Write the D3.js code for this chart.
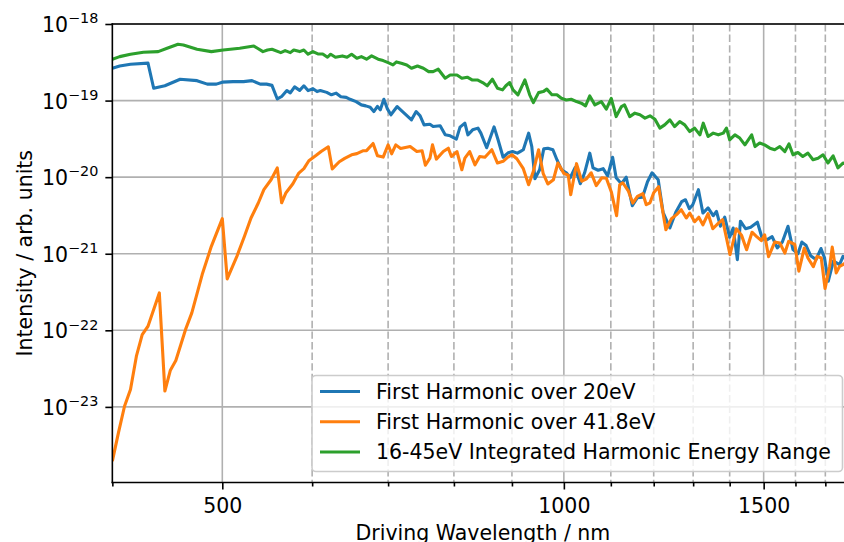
<!DOCTYPE html>
<html><head><meta charset="utf-8">
<script src="https://cdn.jsdelivr.net/npm/d3@7"></script>
<style>body{margin:0;background:#fff}svg text{font-family:"DejaVu Sans",sans-serif;fill:#000}</style>
</head><body>
<svg id="c" width="844" height="542"></svg>
<script>
// ---- data (wavelength in nm, intensity in arb. units) ----
const greenWl=[400,406,415,426,439,447,457,462,475,489,501,518,533,537,543,548,553,563,568,574,578,585,590,595,601,607,613,619,623,629,638,644,650,657,663,670,677,686,693,700,707,712,719,727,734,743,752,760,767,775,786,794,805,813,822,830,839,848,856,865,874,883,889,896,902,911,924,933,940,950,959,966,976,986,995,1005,1015,1026,1036,1045,1054,1065,1079,1090,1101,1112,1124,1131,1143,1155,1167,1179,1191,1203,1215,1227,1240,1252,1265,1278,1291,1304,1318,1327,1340,1354,1368,1382,1391,1400,1415,1429,1444,1464,1474,1488,1503,1519,1534,1550,1566,1579,1592,1608,1624,1641,1658,1675,1692,1709,1727,1744,1762,1780];
const greenI=[3.47e-19,3.75e-19,4.03e-19,4.28e-19,4.36e-19,4.82e-19,5.43e-19,5.32e-19,4.68e-19,4.36e-19,
4.58e-19,4.82e-19,5.16e-19,4.82e-19,4.36e-19,4.58e-19,4.68e-19,4.23e-19,4.49e-19,4.23e-19,
4.58e-19,4.36e-19,4.58e-19,4.03e-19,4.36e-19,4.06e-19,4.06e-19,3.68e-19,4.03e-19,3.68e-19,
3.83e-19,3.68e-19,4.03e-19,3.57e-19,3.75e-19,3.47e-19,3.83e-19,3.47e-19,3.33e-19,3.13e-19,
2.92e-19,3.20e-19,3.08e-19,2.92e-19,2.64e-19,2.83e-19,2.64e-19,2.39e-19,2.39e-19,2.57e-19,
1.96e-19,2.16e-19,2.16e-19,1.96e-19,2.02e-19,1.86e-19,1.86e-19,1.72e-19,1.56e-19,1.90e-19,
1.45e-19,1.38e-19,1.56e-19,1.72e-19,1.38e-19,1.19e-19,1.86e-19,1.19e-19,9.42e-20,1.27e-19,
1.31e-19,1.41e-19,1.19e-19,1.19e-19,1.07e-19,1.02e-19,1.04e-19,9.70e-20,9.25e-20,8.53e-20,
1.15e-19,8.79e-20,9.70e-20,7.73e-20,1.07e-19,6.18e-20,8.36e-20,8.79e-20,6.18e-20,6.85e-20,
6.52e-20,5.90e-20,6.32e-20,5.71e-20,4.37e-20,4.82e-20,5.60e-20,4.58e-20,5.32e-20,4.82e-20,
3.94e-20,4.37e-20,3.57e-20,5.07e-20,3.40e-20,3.76e-20,3.57e-20,3.76e-20,4.37e-20,3.08e-20,
3.57e-20,3.24e-20,2.64e-20,3.57e-20,2.51e-20,2.79e-20,2.64e-20,2.39e-20,2.28e-20,2.51e-20,
2.16e-20,2.72e-20,1.96e-20,2.10e-20,1.86e-20,2.06e-20,1.69e-20,1.77e-20,1.96e-20,1.53e-20,
1.90e-20,1.32e-20,1.53e-20,1.45e-20];

const blueWl=[400,406,415,430,435,445,459,475,485,494,500,511,522,531,540,547,553,559,564,570,574,579,585,590,595,601,606,610,618,624,630,636,643,648,656,663,669,675,680,685,689,694,699,704,713,722,734,741,747,753,762,767,778,786,794,804,810,818,823,831,840,845,855,868,875,884,893,901,910,915,921,931,937,943,952,960,968,978,986,995,1005,1013,1023,1034,1043,1054,1061,1072,1083,1093,1104,1112,1124,1135,1149,1161,1173,1185,1196,1211,1223,1240,1255,1270,1280,1290,1299,1314,1326,1340,1354,1363,1374,1386,1400,1410,1422,1431,1446,1461,1481,1496,1511,1526,1542,1558,1576,1592,1608,1621,1635,1650,1668,1685,1697,1710,1728,1750,1762,1780];
const blueI=[2.64e-19,2.83e-19,2.98e-19,3.08e-19,1.45e-19,1.56e-19,1.90e-19,1.82e-19,1.64e-19,1.64e-19,
1.74e-19,1.77e-19,1.77e-19,1.82e-19,1.64e-19,1.64e-19,1.58e-19,1.05e-19,1.13e-19,1.35e-19,
1.26e-19,1.51e-19,1.36e-19,1.56e-19,1.35e-19,1.43e-19,1.31e-19,1.35e-19,1.28e-19,1.19e-19,
1.25e-19,1.12e-19,1.10e-19,1.04e-19,9.70e-20,8.79e-20,8.53e-20,8.20e-20,7.19e-20,8.40e-20,
7.57e-20,1.04e-19,7.80e-20,6.52e-20,8.36e-20,7.02e-20,5.60e-20,7.19e-20,6.32e-20,4.82e-20,
4.90e-20,4.58e-20,4.68e-20,3.57e-20,3.47e-20,3.14e-20,4.50e-20,5.07e-20,3.57e-20,4.15e-20,
4.37e-20,3.76e-20,2.42e-20,4.54e-20,3.08e-20,1.82e-20,2.08e-20,2.16e-20,2.06e-20,2.16e-20,
2.28e-20,3.76e-20,2.51e-20,9.53e-21,1.25e-20,2.34e-20,2.39e-20,2.28e-20,1.69e-20,1.25e-20,
1.14e-20,9.82e-21,1.33e-20,8.20e-21,1.14e-20,2.06e-20,1.32e-20,1.23e-20,1.29e-20,1.04e-20,
1.82e-20,9.82e-21,8.20e-21,9.98e-21,4.24e-21,5.38e-21,5.47e-21,8.71e-21,1.14e-20,9.25e-21,
3.48e-21,2.17e-21,3.48e-21,4.78e-21,5.07e-21,3.87e-21,4.37e-21,6.86e-21,3.40e-21,3.96e-21,
3.14e-21,3.57e-21,2.29e-21,3.00e-21,1.64e-21,2.17e-21,8.38e-22,2.66e-21,2.12e-21,2.22e-21,
2.58e-21,1.57e-21,1.53e-21,1.67e-21,1.19e-21,1.42e-21,2.28e-21,1.13e-21,1.00e-21,1.42e-21,
1.28e-21,9.44e-22,8.38e-22,1.17e-21,8.89e-22,4.37e-22,8.02e-22,7.21e-22,9.25e-22,8.00e-22];

const orangeWl=[400,405,410,415,420,425,430,440,445,450,455,464,470,480,489,500,505,515,523,530,538,544,552,559,564,569,577,584,590,596,605,611,620,625,634,641,650,657,665,670,679,685,693,700,705,711,718,732,742,750,755,762,766,772,783,791,796,805,813,818,826,835,843,852,864,874,884,891,900,909,921,931,940,950,959,968,979,988,1000,1009,1014,1026,1037,1047,1057,1068,1080,1090,1101,1113,1120,1127,1140,1150,1161,1174,1182,1191,1200,1212,1230,1244,1257,1269,1282,1291,1304,1315,1326,1340,1353,1367,1380,1401,1419,1434,1449,1465,1478,1493,1503,1515,1534,1550,1566,1578,1598,1611,1629,1641,1659,1672,1686,1699,1715,1724,1738,1750,1762,1780];
const orangeI=[1.96e-24,4.61e-24,1.02e-23,1.69e-23,4.59e-23,8.81e-23,1.13e-22,3.08e-22,1.61e-23,3.02e-23,
4.04e-23,1.02e-22,1.69e-22,5.35e-22,1.25e-21,2.87e-21,4.69e-22,9.25e-22,1.69e-21,2.93e-21,
4.63e-21,6.86e-21,9.25e-21,1.32e-20,4.63e-21,6.27e-21,8.20e-21,1.13e-20,1.29e-20,1.64e-20,
1.93e-20,2.16e-20,2.49e-20,1.28e-20,1.59e-20,1.76e-20,1.96e-20,2.03e-20,2.21e-20,2.22e-20,
2.75e-20,1.90e-20,1.83e-20,2.64e-20,2.02e-20,2.64e-20,2.37e-20,2.51e-20,2.16e-20,2.21e-20,
1.43e-20,1.77e-20,2.64e-20,1.72e-20,2.16e-20,2.39e-20,1.86e-20,2.16e-20,1.25e-20,1.77e-20,
2.16e-20,1.45e-20,1.86e-20,1.82e-20,2.28e-20,1.53e-20,1.61e-20,1.79e-20,1.96e-20,1.74e-20,
1.29e-20,7.96e-21,1.19e-20,2.28e-20,1.11e-20,8.15e-21,9.25e-21,1.53e-20,1.12e-20,1.06e-20,
5.90e-21,1.50e-20,8.85e-21,9.53e-21,1.14e-20,7.76e-21,9.82e-21,9.68e-21,6.46e-21,3.14e-21,
7.96e-21,8.45e-21,6.55e-21,4.59e-21,5.60e-21,6.08e-21,4.37e-21,4.63e-21,6.27e-21,7.50e-21,
2.06e-21,2.87e-21,3.24e-21,3.76e-21,2.93e-21,3.40e-21,2.62e-21,3.00e-21,2.39e-21,3.33e-21,
2.12e-21,2.47e-21,2.79e-21,9.73e-22,2.12e-21,1.75e-21,1.13e-21,1.91e-21,1.69e-21,1.48e-21,
1.77e-21,9.16e-22,1.42e-21,1.38e-21,1.02e-21,1.45e-21,1.32e-21,5.93e-22,1.19e-21,8.81e-22,
6.79e-22,9.25e-22,8.81e-22,3.51e-22,6.86e-22,1.22e-21,5.62e-22,6.86e-22,7.21e-22,8.00e-22];

const seriesNames=["First Harmonic over 20eV","First Harmonic over 41.8eV","16-45eV Integrated Harmonic Energy Range"];
const seriesColors=["#1f77b4","#ff7f0e","#2ca02c"];
const xMajorTicks=[500,1000,1500];
const xMinorTicks=[400,600,700,800,900,1100,1200,1300,1400,1600,1700];
const yTickExps=[-18,-19,-20,-21,-22,-23];
const xLabel="Driving Wavelength / nm";
const yLabel="Intensity / arb. units";

// ---- layout ----
const L=112.35,R=853.5,T=24,B=482.5,FS=20.5;
const x=d3.scaleLog().domain([400,1800]).range([L,R]);
const y=d3.scaleLog().domain([1.03e-24,1e-18]).range([B,T]);
const svg=d3.select("#c");

svg.append("defs").append("clipPath").attr("id","pc").append("rect")
  .attr("x",L).attr("y",T).attr("width",R-L).attr("height",B-T);

const grid=svg.append("g");
grid.selectAll(".gxm").data(xMinorTicks.filter(v=>v>400)).join("line")
  .attr("x1",d=>x(d)).attr("x2",d=>x(d)).attr("y1",T).attr("y2",B)
  .attr("stroke","#b0b0b0").attr("stroke-width",1.6).attr("stroke-dasharray","7.4,3.2");
grid.selectAll(".gxM").data(xMajorTicks).join("line")
  .attr("x1",d=>x(d)).attr("x2",d=>x(d)).attr("y1",T).attr("y2",B)
  .attr("stroke","#b0b0b0").attr("stroke-width",1.6);
grid.selectAll(".gy").data(yTickExps.map(e=>Math.pow(10,e))).join("line")
  .attr("x1",L).attr("x2",R).attr("y1",d=>y(d)).attr("y2",d=>y(d))
  .attr("stroke","#b0b0b0").attr("stroke-width",1.6);

// ---- lines ----
const line=d3.line().x(d=>x(d[0])).y(d=>y(d[1]));
const series=[[blueWl,blueI],[orangeWl,orangeI],[greenWl,greenI]];
const plot=svg.append("g").attr("clip-path","url(#pc)");
series.forEach((s,i)=>{
  const pts=s[0].map((w,k)=>[w,s[1][k]]);
  plot.append("path").datum(pts).attr("d",line).attr("fill","none")
    .attr("stroke",seriesColors[i]).attr("stroke-width",3.1)
    .attr("stroke-linejoin","round").attr("stroke-linecap","butt");
});

// ---- axes ----
const gx=svg.append("g").attr("transform",`translate(0,${B})`);
gx.call(d3.axisBottom(x).tickValues(xMajorTicks).tickSize(7).tickPadding(9).tickFormat(d3.format("d")));
const gxm=svg.append("g").attr("transform",`translate(0,${B})`);
gxm.call(d3.axisBottom(x).tickValues(xMinorTicks).tickSize(4).tickFormat(""));
[gx,gxm].forEach(g=>{g.select(".domain").remove();g.selectAll("line").attr("stroke","#000").attr("stroke-width",1.6);});
gx.selectAll("text").attr("font-size",FS).attr("font-family","DejaVu Sans").attr("dy",null).attr("y",30.4);

const gy=svg.append("g").attr("transform",`translate(${L},0)`);
gy.call(d3.axisLeft(y).tickValues(yTickExps.map(e=>Math.pow(10,e))).tickSize(7).tickFormat(""));
gy.select(".domain").remove();
gy.selectAll("line").attr("stroke","#000").attr("stroke-width",1.6);
const yl=svg.append("g");
yTickExps.forEach(e=>{
  const t=yl.append("text").attr("x",L-14).attr("y",y(Math.pow(10,e))+8)
    .attr("text-anchor","end").attr("font-size",FS);
  t.append("tspan").text("10");
  t.append("tspan").attr("font-size",14.4).attr("dy",-8.7).text("\u2212"+Math.abs(e));
});

// spines
const sp=svg.append("g").attr("stroke","#000").attr("stroke-width",1.6).attr("stroke-linecap","square");
sp.append("line").attr("x1",L).attr("x2",L).attr("y1",T).attr("y2",B);
sp.append("line").attr("x1",L).attr("x2",R).attr("y1",B).attr("y2",B);
sp.append("line").attr("x1",L).attr("x2",R).attr("y1",T).attr("y2",T);

// labels
svg.append("text").attr("x",(L+R)/2).attr("y",539.5).attr("text-anchor","middle").attr("font-size",FS).text(xLabel);
svg.append("text").attr("transform",`translate(31.5,${(T+B)/2}) rotate(-90)`).attr("text-anchor","middle").attr("font-size",FS).text(yLabel);

// ---- legend ----
const lg=svg.append("g");
lg.append("rect").attr("x",312).attr("y",375.5).attr("width",530.5).attr("height",96)
  .attr("rx",4).attr("fill","#fff").attr("fill-opacity",0.8).attr("stroke","#cccccc").attr("stroke-width",1.6);
const rowY=[391.5,421.8,452];
seriesNames.forEach((n,i)=>{
  lg.append("line").attr("x1",320).attr("x2",360).attr("y1",rowY[i]).attr("y2",rowY[i])
    .attr("stroke",seriesColors[i]).attr("stroke-width",3.1);
  lg.append("text").attr("x",376).attr("y",rowY[i]+7.4).attr("font-size",FS).text(n);
});
</script>
</body></html>
